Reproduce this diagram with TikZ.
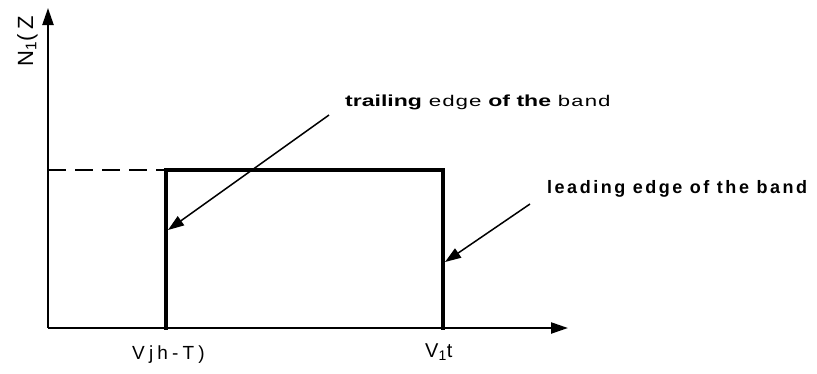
\documentclass[tikz,border=0pt]{standalone}
\usepackage{graphicx}
\usepackage{fontspec}
\setmainfont{Liberation Sans}
\newfontfamily\lsans[LetterSpace=14]{Liberation Sans}
\newfontfamily\wsans[LetterSpace=22]{Liberation Sans}
\newfontfamily\mono{Liberation Mono}
\usetikzlibrary{arrows.meta}
\tikzset{
  axis/.style={line width=2.3pt,-{Triangle[length=17pt,width=11pt]}},
  band/.style={line width=3.2pt,line cap=rect},
  dashline/.style={line width=2.3pt,dash pattern=on 18pt off 9pt},
  pointer/.style={line width=1.5pt,-{Triangle[length=16pt,width=11pt]}},
  lbl/.style={inner sep=0pt,anchor=base west}
}
\begin{document}
\begin{tikzpicture}[x=1pt,y=-1pt]
\useasboundingbox (0,0) rectangle (817,373);
% axes
\coordinate (O) at (48,328);
\coordinate (ytip) at (48,8);
\coordinate (xtip) at (568,328);
\draw[axis] (O) -- (ytip);
\draw[axis] (O) -- (xtip);
% band
\coordinate (dl) at (48,170);
\coordinate (tl) at (166,170);
\coordinate (tr) at (443,170);
\coordinate (bl) at (166,328);
\coordinate (br) at (443,328);
\draw[dashline] (dl) -- (tl);
\draw[band] (bl) -- (tl) -- (tr) -- (br);
% pointers
\coordinate (ttail) at (329,115);
\coordinate (thead) at (168,230);
\coordinate (ltail) at (530,204);
\coordinate (lhead) at (445,262);
\draw[pointer] (ttail) -- (thead);
\draw[pointer] (ltail) -- (lhead);
% labels
\node[lbl] (tlab) at (345,106) {\scalebox{1.44}[1]{\fontsize{16}{16}\selectfont\bfseries trailing {\mono\mdseries\fontsize{15.5}{16}\selectfont edge} of the {\mono\mdseries\fontsize{15.5}{16}\selectfont band}}};
\node[lbl] (llab) at (547,193) {\fontsize{18}{18}\selectfont\lsans\bfseries leading edge of the band};
\node[lbl] (xl1) at (132,359) {\fontsize{19}{19}\selectfont\wsans Vjh-T)};
\node[lbl] (xl2) at (425,357) {\fontsize{20}{20}\selectfont\lsans V\textsubscript{1}t};
\node[lbl,rotate=90] (yl) at (33,67) {\fontsize{22}{22}\selectfont\wsans N\textsubscript{1}(Z};
\end{tikzpicture}
\end{document}
